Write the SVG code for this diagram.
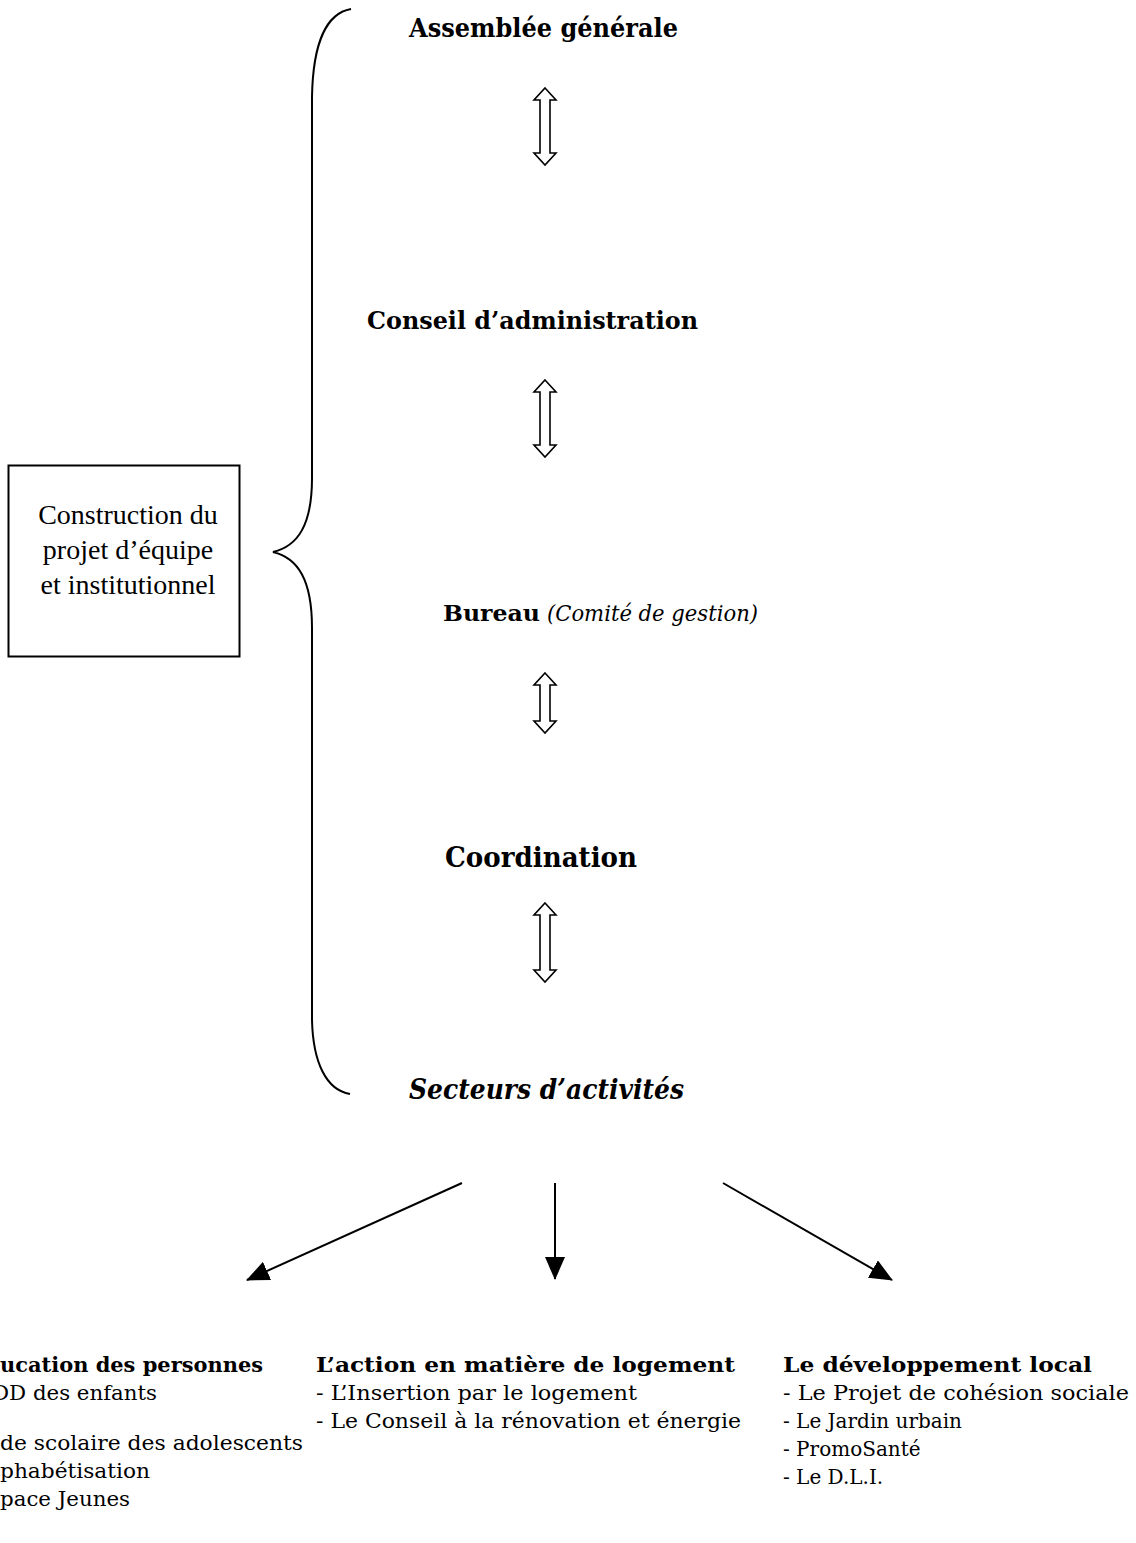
<svg xmlns="http://www.w3.org/2000/svg" width="1136" height="1543" viewBox="0 0 1136 1543">
<style>
  .t { font-family: "DejaVu Serif", "Liberation Serif", serif; fill: #000; }
  .b { font-weight: bold; }
  .i { font-style: italic; }
  .tnr { font-family: "Liberation Serif", "Times New Roman", serif; font-size: 28px; fill: #000; text-anchor: middle; }
  .dbl { fill: #fff; stroke: #000; stroke-width: 1.6; stroke-linejoin: miter; }
  .ln { stroke: #000; stroke-width: 2; fill: none; }
  .brace { stroke: #000; stroke-width: 2; fill: none; }
  .body { font-size: 20px; }
  .hd { font-size: 20px; font-weight: bold; }
</style>
<defs>
  <marker id="ah" viewBox="0 0 23 20" refX="22" refY="10" markerWidth="23" markerHeight="20" markerUnits="userSpaceOnUse" orient="auto">
    <path d="M0,0 L23,10 L0,20 z" fill="#000"/>
  </marker>
</defs>
<rect width="1136" height="1543" fill="#fff"/>

<g id="brace">
  <path class="brace" d="M351,9 C328,13 313,40 312,97 L312,478 C312,525 298,546 273,552 C298,558 312,580 312,628 L312,1020 C313,1062 326,1090 350,1094"/>
</g>

<g id="box">
  <rect x="8.5" y="465.5" width="231" height="191" fill="#fff" stroke="#000" stroke-width="2"/>
  <text class="tnr" x="128" y="524">Construction du</text>
  <text class="tnr" x="128" y="559">projet d’équipe</text>
  <text class="tnr" x="128" y="594">et institutionnel</text>
</g>

<g id="assemblee">
  <text class="t b" x="409" y="37" font-size="26" textLength="269" lengthAdjust="spacingAndGlyphs">Assemblée générale</text>
</g>
<g id="conseil">
  <text class="t b" x="367" y="329" font-size="25" textLength="331" lengthAdjust="spacingAndGlyphs">Conseil d’administration</text>
</g>
<g id="bureau">
  <text class="t b" x="443" y="621" font-size="22" textLength="97" lengthAdjust="spacingAndGlyphs">Bureau</text>
  <text class="t i" x="547" y="621" font-size="22" textLength="211" lengthAdjust="spacingAndGlyphs">(Comité de gestion)</text>
</g>
<g id="coordination">
  <text class="t b" x="445" y="867" font-size="27" textLength="192" lengthAdjust="spacingAndGlyphs">Coordination</text>
</g>
<g id="secteurs">
  <text class="t b i" x="409" y="1099" font-size="28" textLength="275" lengthAdjust="spacingAndGlyphs">Secteurs d’activités</text>
</g>

<g id="connectors">
  <polygon class="dbl" points="545,88 556,100 550,100 550,153 556,153 545,165 534,153 540,153 540,100 534,100"/>
  <polygon class="dbl" points="545,380 556,392 550,392 550,445 556,445 545,457 534,445 540,445 540,392 534,392"/>
  <polygon class="dbl" points="545,673 556,685 550,685 550,721 556,721 545,733 534,721 540,721 540,685 534,685"/>
  <polygon class="dbl" points="545,903 556,915 550,915 550,970 556,970 545,982 534,970 540,970 540,915 534,915"/>
  <line class="ln" x1="462" y1="1183" x2="247" y2="1280" marker-end="url(#ah)"/>
  <line class="ln" x1="555" y1="1183" x2="555" y2="1279" marker-end="url(#ah)"/>
  <line class="ln" x1="723" y1="1183" x2="892" y2="1280" marker-end="url(#ah)"/>
</g>

<g id="education">
  <text class="t hd" x="0" y="1372" textLength="263" lengthAdjust="spacingAndGlyphs">ucation des personnes</text>
  <text class="t body" x="-8" y="1400" textLength="165" lengthAdjust="spacingAndGlyphs">DD des enfants</text>
  <text class="t body" x="0" y="1450" textLength="303" lengthAdjust="spacingAndGlyphs">de scolaire des adolescents</text>
  <text class="t body" x="0" y="1478" textLength="150" lengthAdjust="spacingAndGlyphs">phabétisation</text>
  <text class="t body" x="0" y="1506" textLength="130" lengthAdjust="spacingAndGlyphs">pace Jeunes</text>
</g>

<g id="logement">
  <text class="t hd" x="316" y="1372" textLength="419" lengthAdjust="spacingAndGlyphs">L’action en matière de logement</text>
  <text class="t body" x="316" y="1400" textLength="321" lengthAdjust="spacingAndGlyphs">- L’Insertion par le logement</text>
  <text class="t body" x="316" y="1428" textLength="425" lengthAdjust="spacingAndGlyphs">- Le Conseil à la rénovation et énergie</text>
</g>

<g id="developpement">
  <text class="t hd" x="783" y="1372" textLength="309" lengthAdjust="spacingAndGlyphs">Le développement local</text>
  <text class="t body" x="783" y="1400" textLength="346" lengthAdjust="spacingAndGlyphs">- Le Projet de cohésion sociale</text>
  <text class="t body" x="783" y="1428">- Le Jardin urbain</text>
  <text class="t body" x="783" y="1456">- PromoSanté</text>
  <text class="t body" x="783" y="1484">- Le D.L.I.</text>
</g>
</svg>
